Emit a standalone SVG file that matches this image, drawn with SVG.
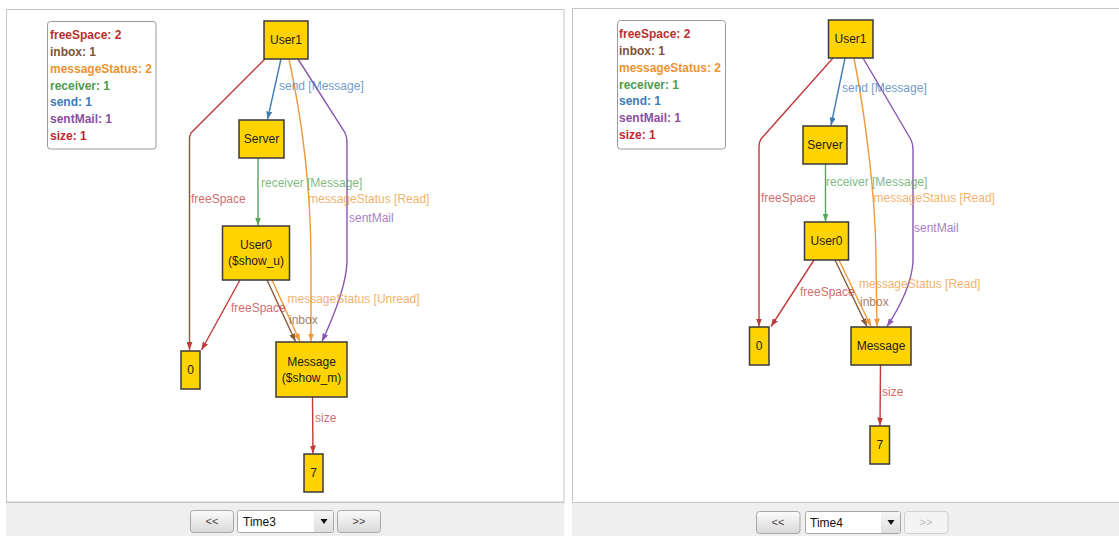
<svg xmlns="http://www.w3.org/2000/svg" width="1119" height="536" viewBox="0 0 1119 536">
  <style>
    .panel { fill: #ffffff; stroke: #c4c4c4; stroke-width: 1; }
    .bar { fill: #efefef; }
    .barline { stroke: #c8c8c8; stroke-width: 1; }
    .legend { fill: #ffffff; stroke: #9a9a9a; stroke-width: 1; }
    .lg { font-family: "Liberation Sans", Arial, sans-serif; font-size: 12px; font-weight: bold; }
    .node rect { fill: #ffd300; stroke: #3a3a3a; stroke-width: 1.5; }
    .node text { font-family: "Liberation Sans", Arial, sans-serif; font-size: 12px; fill: #222222; text-anchor: middle; }
    .edge { fill: none; stroke-width: 1.4; }
    .lbl { font-family: "Liberation Sans", Arial, sans-serif; font-size: 12px; opacity: 0.75; }
    .red { stroke: #c23b3b; } .tred { fill: #c23b3b; }
    .brown { stroke: #86593a; } .tbrown { fill: #86593a; }
    .orange { stroke: #ee9a3a; } .torange { fill: #ee9a3a; }
    .green { stroke: #58a45a; } .tgreen { fill: #58a45a; }
    .blue { stroke: #3f7bb6; } .tblue { fill: #3f7bb6; }
    .purple { stroke: #8a55b0; } .tpurple { fill: #8a55b0; }
    .btn { fill: url(#btnGrad); stroke: #a8a8a8; stroke-width: 1; }
    .btnoff { fill: #f4f4f4; stroke: #cfcfcf; stroke-width: 1; }
    .btxt { font-family: "Liberation Sans", Arial, sans-serif; font-size: 11px; fill: #444444; text-anchor: middle; }
    .btxtoff { font-family: "Liberation Sans", Arial, sans-serif; font-size: 11px; fill: #bbbbbb; text-anchor: middle; }
    .sel { fill: #ffffff; stroke: #a8a8a8; stroke-width: 1; }
    .stxt { font-family: "Liberation Sans", Arial, sans-serif; font-size: 12px; fill: #111111; }
  </style>
  <defs>
    <linearGradient id="btnGrad" x1="0" y1="0" x2="0" y2="1">
      <stop offset="0" stop-color="#fbfbfb"/>
      <stop offset="1" stop-color="#d9d9d9"/>
    </linearGradient>
    <linearGradient id="dropGrad" x1="0" y1="0" x2="0" y2="1">
      <stop offset="0" stop-color="#f6f6f6"/>
      <stop offset="1" stop-color="#dedede"/>
    </linearGradient>
    <marker id="aRed" viewBox="0 0 8 6" refX="8" refY="3" markerWidth="8" markerHeight="6" markerUnits="userSpaceOnUse" orient="auto"><path d="M0,0 L8,3 L0,6 z" fill="#c23b3b"/></marker>
    <marker id="aBrown" viewBox="0 0 8 6" refX="8" refY="3" markerWidth="8" markerHeight="6" markerUnits="userSpaceOnUse" orient="auto"><path d="M0,0 L8,3 L0,6 z" fill="#86593a"/></marker>
    <marker id="aOrange" viewBox="0 0 8 6" refX="8" refY="3" markerWidth="8" markerHeight="6" markerUnits="userSpaceOnUse" orient="auto"><path d="M0,0 L8,3 L0,6 z" fill="#ee9a3a"/></marker>
    <marker id="aGreen" viewBox="0 0 8 6" refX="8" refY="3" markerWidth="8" markerHeight="6" markerUnits="userSpaceOnUse" orient="auto"><path d="M0,0 L8,3 L0,6 z" fill="#58a45a"/></marker>
    <marker id="aBlue" viewBox="0 0 8 6" refX="8" refY="3" markerWidth="8" markerHeight="6" markerUnits="userSpaceOnUse" orient="auto"><path d="M0,0 L8,3 L0,6 z" fill="#3f7bb6"/></marker>
    <marker id="aPurple" viewBox="0 0 8 6" refX="8" refY="3" markerWidth="8" markerHeight="6" markerUnits="userSpaceOnUse" orient="auto"><path d="M0,0 L8,3 L0,6 z" fill="#8a55b0"/></marker>
  </defs>

  <rect width="1119" height="536" fill="#ffffff"/>

  <!-- ============ Left view: Time3 ============ -->
  <g id="view-time3">
    <rect class="panel" x="6.5" y="9.5" width="557.5" height="492.5"/>
    <rect class="bar" x="6" y="502" width="558.5" height="34"/>
    <line class="barline" x1="6" y1="502.5" x2="564.5" y2="502.5"/>

    <g id="t3-legend">
      <rect class="legend" x="47.5" y="21.5" width="108.5" height="127.5" rx="3"/>
      <text class="lg" x="50" y="39" fill="#b8302f">freeSpace: 2</text>
      <text class="lg" x="50" y="56" fill="#7f5236">inbox: 1</text>
      <text class="lg" x="50" y="73" fill="#ee9330">messageStatus: 2</text>
      <text class="lg" x="50" y="90" fill="#4e9a4e">receiver: 1</text>
      <text class="lg" x="50" y="106" fill="#3d7ab8">send: 1</text>
      <text class="lg" x="50" y="123" fill="#8a4fa3">sentMail: 1</text>
      <text class="lg" x="50" y="140" fill="#c0282d">size: 1</text>
    </g>

    <g id="t3-connectors">
      <path class="edge red" d="M265,59 L191,133 Q189.5,135.5 189.5,139 L189.5,350" marker-end="url(#aRed)"/>
      <path class="edge blue" d="M281,59 L267.5,119.5" marker-end="url(#aBlue)"/>
      <path class="edge orange" d="M289,59 C300,110 311,180 311,262 L311,341.5" marker-end="url(#aOrange)"/>
      <path class="edge purple" d="M298,59 L344,131 Q347,136 347,143 L347,262 Q346,290 322,341.5" marker-end="url(#aPurple)"/>
      <path class="edge green" d="M258,158 L258,225.5" marker-end="url(#aGreen)"/>
      <path class="edge red" d="M240,280 L201.5,350" marker-end="url(#aRed)"/>
      <path class="edge brown" d="M267,280 L295.5,341.5" marker-end="url(#aBrown)"/>
      <path class="edge orange" d="M272,280 L300,341.5" marker-end="url(#aOrange)"/>
      <path class="edge red" d="M312.5,397 L313,453.5" marker-end="url(#aRed)"/>

      <text class="lbl tblue" x="279" y="90">send [Message]</text>
      <text class="lbl tgreen" x="261" y="187">receiver [Message]</text>
      <text class="lbl tred" x="191" y="203">freeSpace</text>
      <text class="lbl torange" x="308" y="203">messageStatus [Read]</text>
      <text class="lbl tpurple" x="349" y="222">sentMail</text>
      <text class="lbl torange" x="287.5" y="303">messageStatus [Unread]</text>
      <text class="lbl tred" x="231" y="312">freeSpace</text>
      <text class="lbl tbrown" x="289" y="324">inbox</text>
      <text class="lbl tred" x="315" y="422">size</text>
    </g>

    <g id="t3-user1" class="node">
      <rect x="264" y="21" width="44" height="38"/>
      <text x="286" y="44">User1</text>
    </g>
    <g id="t3-server" class="node">
      <rect x="239" y="120" width="45" height="38"/>
      <text x="261.5" y="143">Server</text>
    </g>
    <g id="t3-user0" class="node">
      <rect x="222.5" y="226" width="67" height="54"/>
      <text x="256" y="249">User0</text>
      <text x="256" y="265">($show_u)</text>
    </g>
    <g id="t3-zero" class="node">
      <rect x="181" y="351" width="19" height="38"/>
      <text x="190.5" y="374">0</text>
    </g>
    <g id="t3-message" class="node">
      <rect x="276" y="342" width="71" height="55"/>
      <text x="311.5" y="366">Message</text>
      <text x="311.5" y="382">($show_m)</text>
    </g>
    <g id="t3-seven" class="node">
      <rect x="304" y="454" width="19" height="38"/>
      <text x="313.5" y="477">7</text>
    </g>

    <g id="t3-controls">
      <rect class="btn" x="190.5" y="510.5" width="43" height="22" rx="3"/>
      <text class="btxt" x="212" y="525">&lt;&lt;</text>
      <rect class="sel" x="237.5" y="510.5" width="96" height="22" rx="2"/>
      <rect x="314" y="511" width="19" height="21" fill="url(#dropGrad)"/>
      <path d="M320.5,519 L327.5,519 L324,524 z" fill="#111111"/>
      <text class="stxt" x="243" y="526">Time3</text>
      <rect class="btn" x="337.5" y="510.5" width="43" height="22" rx="3"/>
      <text class="btxt" x="359" y="525">&gt;&gt;</text>
    </g>
  </g>

  <!-- ============ Right view: Time4 ============ -->
  <g id="view-time4">
    <rect class="panel" x="572.5" y="8.5" width="548" height="494"/>
    <rect class="bar" x="572" y="502.5" width="547" height="33.5"/>
    <line class="barline" x1="572" y1="502.5" x2="1119" y2="502.5"/>

    <g id="t4-legend">
      <rect class="legend" x="617.5" y="20.5" width="108" height="128.5" rx="3"/>
      <text class="lg" x="619" y="38" fill="#b8302f">freeSpace: 2</text>
      <text class="lg" x="619" y="55" fill="#7f5236">inbox: 1</text>
      <text class="lg" x="619" y="72" fill="#ee9330">messageStatus: 2</text>
      <text class="lg" x="619" y="89" fill="#4e9a4e">receiver: 1</text>
      <text class="lg" x="619" y="105" fill="#3d7ab8">send: 1</text>
      <text class="lg" x="619" y="122" fill="#8a4fa3">sentMail: 1</text>
      <text class="lg" x="619" y="139" fill="#c0282d">size: 1</text>
    </g>

    <g id="t4-connectors">
      <path class="edge red" d="M833,58 L761,139 Q759,142 759,147 L759,326.5" marker-end="url(#aRed)"/>
      <path class="edge blue" d="M845,58 L831,125.5" marker-end="url(#aBlue)"/>
      <path class="edge orange" d="M854,58 C866,120 876,200 876,262 L877,326.5" marker-end="url(#aOrange)"/>
      <path class="edge purple" d="M863,58 L910,138 Q913,143 913,150 L913,262 Q911,290 887,326.5" marker-end="url(#aPurple)"/>
      <path class="edge green" d="M825.5,164 L825.5,221.5" marker-end="url(#aGreen)"/>
      <path class="edge red" d="M814,260 L771,326.5" marker-end="url(#aRed)"/>
      <path class="edge brown" d="M835,260 L867,326.5" marker-end="url(#aBrown)"/>
      <path class="edge orange" d="M839,260 L871,326.5" marker-end="url(#aOrange)"/>
      <path class="edge red" d="M880.5,365 L880,425.5" marker-end="url(#aRed)"/>

      <text class="lbl tblue" x="842" y="92">send [Message]</text>
      <text class="lbl tgreen" x="826" y="186">receiver [Message]</text>
      <text class="lbl tred" x="761" y="202">freeSpace</text>
      <text class="lbl torange" x="873.5" y="202">messageStatus [Read]</text>
      <text class="lbl tpurple" x="914" y="232">sentMail</text>
      <text class="lbl torange" x="859" y="288">messageStatus [Read]</text>
      <text class="lbl tred" x="800" y="296">freeSpace</text>
      <text class="lbl tbrown" x="860" y="306">inbox</text>
      <text class="lbl tred" x="882" y="396">size</text>
    </g>

    <g id="t4-user1" class="node">
      <rect x="828.5" y="20" width="44.5" height="38"/>
      <text x="850.5" y="43">User1</text>
    </g>
    <g id="t4-server" class="node">
      <rect x="803" y="126" width="44" height="38"/>
      <text x="825" y="149">Server</text>
    </g>
    <g id="t4-user0" class="node">
      <rect x="804.5" y="222" width="44" height="38"/>
      <text x="826.5" y="245">User0</text>
    </g>
    <g id="t4-zero" class="node">
      <rect x="749.5" y="327" width="19.5" height="38"/>
      <text x="759.2" y="350">0</text>
    </g>
    <g id="t4-message" class="node">
      <rect x="851" y="327" width="60" height="38"/>
      <text x="881" y="350">Message</text>
    </g>
    <g id="t4-seven" class="node">
      <rect x="870" y="426" width="19.5" height="38"/>
      <text x="879.8" y="449">7</text>
    </g>

    <g id="t4-controls">
      <rect class="btn" x="756.5" y="511.5" width="43.5" height="22" rx="3"/>
      <text class="btxt" x="778" y="526">&lt;&lt;</text>
      <rect class="sel" x="805.5" y="511.5" width="95" height="22" rx="2"/>
      <rect x="881" y="512" width="19" height="21" fill="url(#dropGrad)"/>
      <path d="M887.5,520 L894.5,520 L891,525 z" fill="#111111"/>
      <text class="stxt" x="810" y="527">Time4</text>
      <rect class="btnoff" x="904.5" y="511.5" width="43.5" height="22" rx="3"/>
      <text class="btxtoff" x="926" y="526">&gt;&gt;</text>
    </g>
  </g>
</svg>
